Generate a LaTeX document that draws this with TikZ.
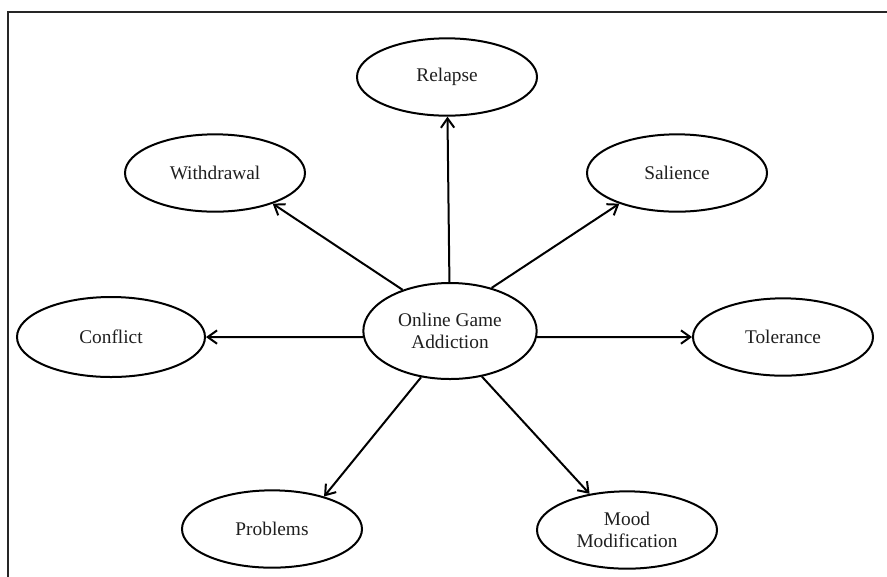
\documentclass[tikz,border=0pt]{standalone}
\usepackage{fontspec}
\setmainfont{Liberation Serif}
\usetikzlibrary{arrows.meta,shapes.geometric}
\begin{document}
\begin{tikzpicture}[x=0.75pt,y=-0.75pt,
  bubble/.style={ellipse,draw,line width=1.5pt,minimum width=135pt,minimum height=58pt,
    inner sep=0pt,align=center,font=\fontsize{14.5}{16.5}\selectfont,text=black!88},
  hub/.style={bubble,minimum width=130pt,minimum height=72pt},
  arr/.style={line width=1.5pt,-{Straight Barb[length=7pt,width=10pt,line width=1.5pt]}}]
\useasboundingbox (0,0) rectangle (887,576);
% frame
\draw[line width=1.6pt,black!85] (8,590) -- (8,12) -- (900,12);
% nodes
\node[hub] (c) at (450,331) {Online Game\\Addiction};
\node[bubble] (relapse) at (447,77) {Relapse};
\node[bubble] (withdrawal) at (215,173) {Withdrawal};
\node[bubble] (salience) at (677,173) {Salience};
\node[bubble,minimum width=141pt,minimum height=60pt] (conflict) at (111,337) {Conflict};
\node[bubble] (tolerance) at (783,337) {Tolerance};
\node[bubble] (problems) at (272,529) {Problems};
\node[bubble] (mood) at (627,530) {Mood\\Modification};
% connectors
\draw[arr] (c) -- (relapse);
\draw[arr] (c.139) -- (withdrawal.-28);
\draw[arr] (c.46) -- (salience.208);
\draw[arr] (c.184) -- (conflict);
\draw[arr] (c.-4) -- (tolerance);
\draw[arr] (c.238) -- (problems.32);
\draw[arr] (c.-55) -- (mood.136);
\end{tikzpicture}
\end{document}
